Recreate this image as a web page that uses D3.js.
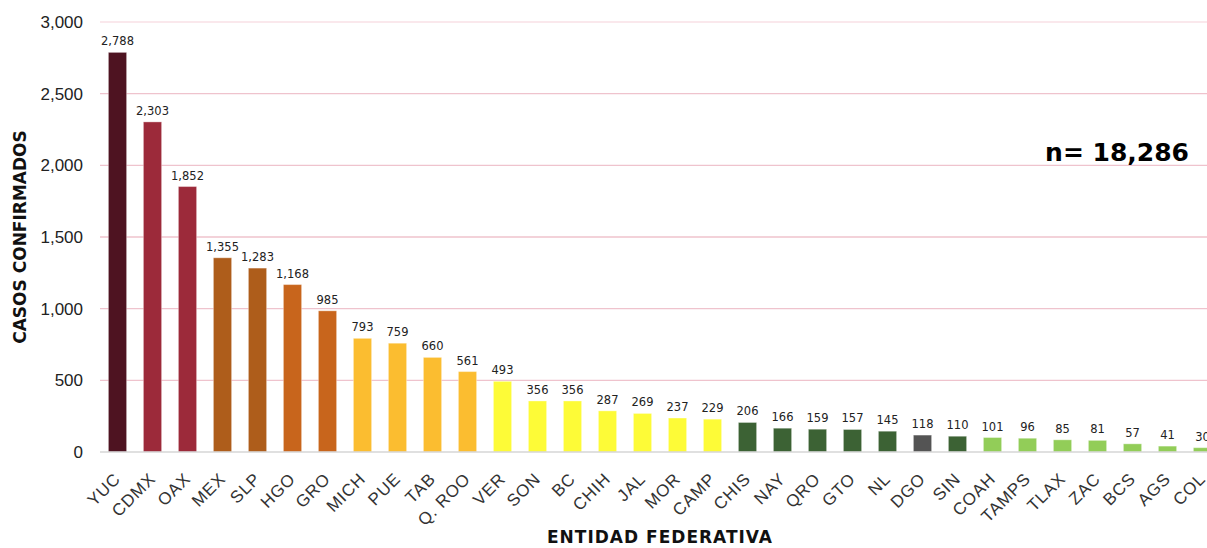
<!DOCTYPE html>
<html>
<head>
<meta charset="utf-8">
<script src="https://cdn.jsdelivr.net/npm/d3@7"></script>
<style>
  body { margin: 0; background: #fff; }
  svg { display: block; font-family: "DejaVu Sans", sans-serif; }
</style>
</head>
<body>
<script>
const width = 1207;
const height = 548;

const estados = ["YUC","CDMX","OAX","MEX","SLP","HGO","GRO","MICH","PUE","TAB","Q. ROO","VER","SON","BC","CHIH","JAL","MOR","CAMP","CHIS","NAY","QRO","GTO","NL","DGO","SIN","COAH","TAMPS","TLAX","ZAC","BCS","AGS","COL"];
const casos = [2788,2303,1852,1355,1283,1168,985,793,759,660,561,493,356,356,287,269,237,229,206,166,159,157,145,118,110,101,96,85,81,57,41,30];
const colores = ["#4e1321","#9c2a3a","#9c2a3a","#ae5d1b","#ae5d1b","#c8651c","#c8651c","#fbbd30","#fbbd30","#fbbd30","#fbbd30","#fdfb37","#fdfb37","#fdfb37","#fdfb37","#fdfb37","#fdfb37","#fdfb37","#3c6234","#3c6234","#3c6234","#3c6234","#3c6234","#545454","#3c6234","#92cd58","#92cd58","#92cd58","#92cd58","#92cd58","#92cd58","#92cd58"];
const yTicks = [0,500,1000,1500,2000,2500,3000];

const margin = {top: 22, left: 100, bottom: 96};
const x = d3.scaleBand().domain(estados).range([margin.left, margin.left + 35*estados.length]).paddingInner(0.48).paddingOuter(0.24);
const y = d3.scaleLinear().domain([0,3000]).range([height - margin.bottom, margin.top]);

const svg = d3.select('body').append('svg').attr('width',width).attr('height',height);

// grid lines
svg.append('g').selectAll('line').data(yTicks.slice(1)).enter().append('line')
  .attr('x1', margin.left).attr('x2', width)
  .attr('y1', d => y(d)).attr('y2', d => y(d))
  .attr('stroke', d => d===3000 ? '#f8e1e6' : '#efc3cd').attr('stroke-width', 1.3);

// y axis
const yAxis = svg.append('g').attr('transform', `translate(${margin.left},0)`)
  .call(d3.axisLeft(y).tickValues(yTicks).tickFormat(d3.format(',')).tickSize(0).tickPadding(17));
yAxis.select('.domain').remove();
yAxis.selectAll('text').attr('font-size', 17).attr('fill', '#222');

// bars
svg.append('g').selectAll('rect').data(estados).enter().append('rect')
  .attr('x', d => x(d)).attr('width', x.bandwidth())
  .attr('y', (d,i) => y(casos[i])).attr('height', (d,i) => y(0) - y(casos[i]))
  .attr('fill', (d,i) => colores[i])
  .attr('stroke', '#ffffff').attr('stroke-opacity', 0.35).attr('stroke-width', 1);

// baseline
svg.append('line').attr('x1', margin.left).attr('x2', width)
  .attr('y1', y(0)).attr('y2', y(0)).attr('stroke', '#d6d6d6').attr('stroke-width', 1.5);

// value labels
svg.append('g').selectAll('text').data(estados).enter().append('text')
  .attr('x', d => x(d) + x.bandwidth()/2).attr('y', (d,i) => y(casos[i]) - 7)
  .attr('text-anchor', 'middle').attr('font-size', 11.5).attr('fill', '#222')
  .text((d,i) => d3.format(',')(casos[i]));

// x axis labels
const xAxis = svg.append('g').attr('transform', `translate(0,${y(0)})`)
  .call(d3.axisBottom(x).tickSize(0).tickPadding(0));
xAxis.select('.domain').remove();
xAxis.selectAll('text')
  .attr('font-size', 17).attr('fill', '#333').attr('letter-spacing', 0.8)
  .attr('text-anchor', 'end').attr('dy', 0)
  .attr('transform', 'translate(4,28) rotate(-45)');

// axis titles
svg.append('text').attr('transform', `translate(26,${y(1500)}) rotate(-90)`)
  .attr('text-anchor', 'middle').attr('font-size', 17).attr('font-weight', 'bold').attr('fill', '#111')
  .text('CASOS CONFIRMADOS');
svg.append('text').attr('x', 660).attr('y', 543)
  .attr('text-anchor', 'middle').attr('font-size', 17).attr('font-weight', 'bold').attr('fill', '#111')
  .attr('letter-spacing', 1)
  .text('ENTIDAD FEDERATIVA');

svg.append('text').attr('x', 1189).attr('y', 161)
  .attr('text-anchor', 'end').attr('font-size', 25).attr('font-weight', 'bold').attr('fill', '#000')
  .text('n= 18,286');
</script>
</body>
</html>
